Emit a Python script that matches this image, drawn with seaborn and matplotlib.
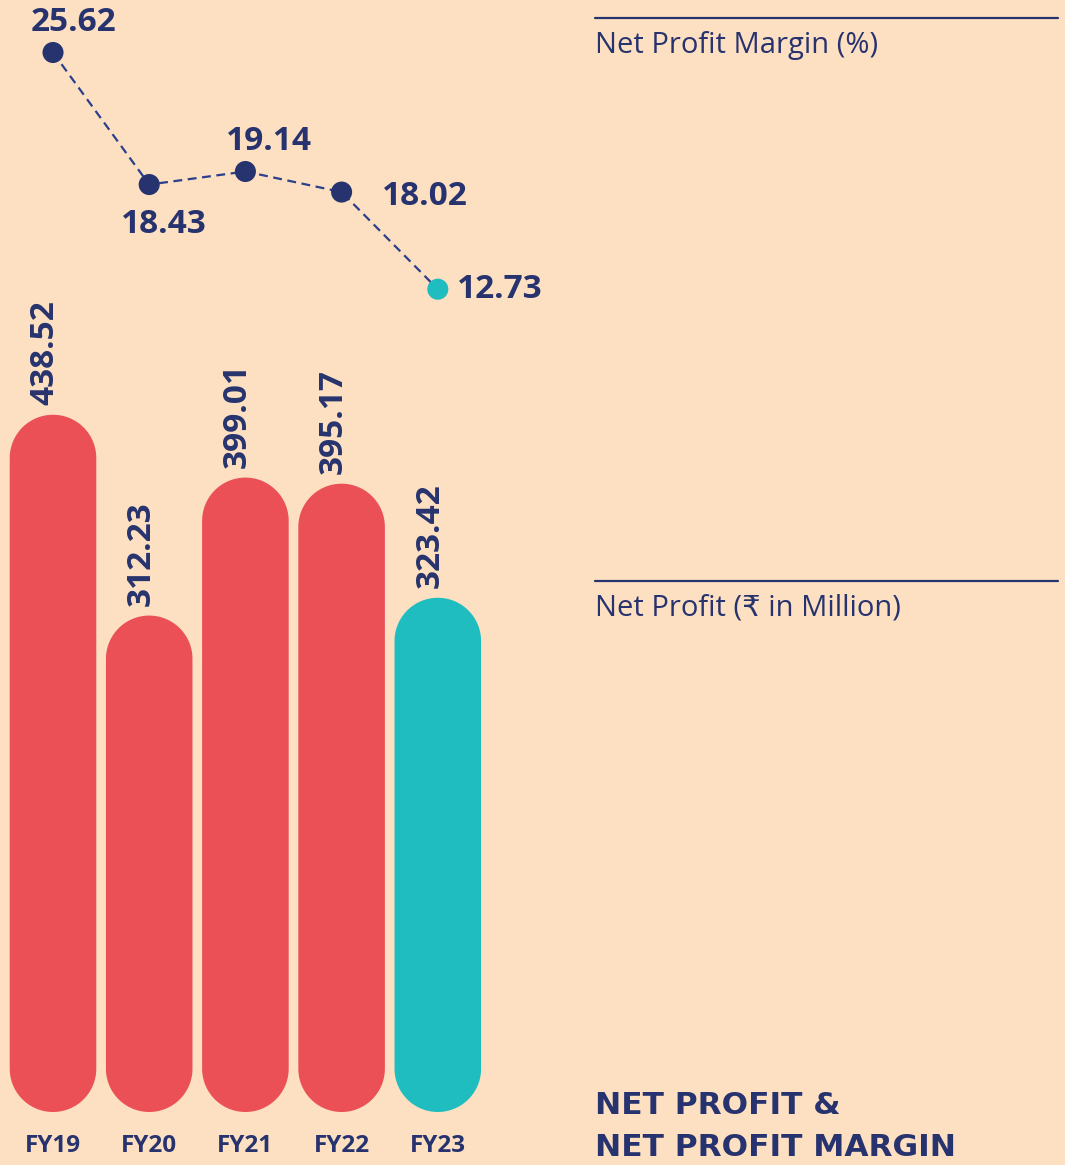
import matplotlib
matplotlib.use("Agg")
import matplotlib.pyplot as plt
from matplotlib.patches import Polygon
from matplotlib.lines import Line2D
import numpy as np
import seaborn as sns

years = ["FY19", "FY20", "FY21", "FY22", "FY23"]
net_profit = [438.52, 312.23, 399.01, 395.17, 323.42]
net_margin = [25.62, 18.43, 19.14, 18.02, 12.73]

BG = "#FDE0C2"
RED = "#EB5057"
TEAL = "#1FBDC0"
NAVY = "#27336E"
bar_colors = [RED, RED, RED, RED, TEAL]

sns.set_theme(style="white")
plt.rcParams["font.family"] = ["Open Sans", "DejaVu Sans"]

fig = plt.figure(figsize=(10.65, 11.65), dpi=100)
fig.patch.set_facecolor(BG)
W, H = 1065, 1165

# bars
ax = fig.add_axes([4.9 / W, 53 / H, 481 / W, 795 / H])
ax.set_facecolor("none")
sns.barplot(x=years, y=net_profit, hue=years, palette=bar_colors,
            legend=False, width=0.9, saturation=1, ax=ax)
ax.set_xlim(-0.5, 4.5)
ax.set_ylim(0, 500)

pos = ax.get_position()
x_per_px = 5.0 / (pos.width * W)
y_per_px = 500.0 / (pos.height * H)
aspect = y_per_px / x_per_px

# replace each bar by a pill of the same size
t = np.linspace(0, np.pi, 60)
for rect in list(ax.patches):
    x0, w, h = rect.get_x(), rect.get_width(), rect.get_height()
    rx = w / 2
    ry = rx * aspect
    cx = x0 + rx
    top = np.column_stack([cx + rx * np.cos(t), h - ry + ry * np.sin(t)])
    bot = np.column_stack([cx - rx * np.cos(t), ry - ry * np.sin(t)])
    pill = Polygon(np.vstack([top, bot]), closed=True,
                   facecolor=rect.get_facecolor(), edgecolor="none")
    rect.remove()
    ax.add_patch(pill)

for i, v in enumerate(net_profit):
    ax.annotate(f"{v:.2f}", (i, v), xytext=(-8, 10), textcoords="offset pixels",
                rotation=90, ha="center", va="bottom", fontsize=24,
                fontweight="bold", color=NAVY)

ax.tick_params(axis="x", length=0, pad=16, labelsize=17.5, labelcolor=NAVY)
for lab in ax.get_xticklabels():
    lab.set_fontweight("bold")
ax.set_yticks([])
ax.set_xlabel("")
ax.set_ylabel("")
sns.despine(ax=ax, left=True, bottom=True)

# margin line
ax2 = fig.add_axes([4.9 / W, (H - 323) / H, 481 / W, 321 / H])
ax2.set_facecolor("none")
sns.lineplot(x=years, y=net_margin, color="#2B3F8C", linewidth=1.6,
             linestyle="--", ax=ax2)
ax2.lines[0].set_dashes((4, 2.5))
sns.scatterplot(x=years, y=net_margin, hue=years, palette=[NAVY] * 4 + [TEAL],
                s=230, edgecolor="none", legend=False, zorder=3, ax=ax2)
ax2.set_xlim(-0.5, 4.5)
ax2.set_ylim(10.89, 28.37)

offsets = [(20, 30), (15, -40), (24, 30), (83, -4), (62, 0)]
for i, (v, off) in enumerate(zip(net_margin, offsets)):
    ax2.annotate(f"{v:.2f}", (i, v), xytext=off, textcoords="offset pixels",
                 ha="center", va="center", fontsize=24, fontweight="bold",
                 color=NAVY)
ax2.axis("off")

# right side labels
for y_line, y_txt, txt in [(18, 46, "Net Profit Margin (%)"),
                           (581, 608, "Net Profit (₹ in Million)")]:
    fig.add_artist(Line2D([595 / W, 1058 / W], [1 - y_line / H, 1 - y_line / H],
                          color=NAVY, linewidth=1.6))
    fig.text(595 / W, 1 - y_txt / H, txt, ha="left", va="center",
             fontsize=21, color=NAVY)

fig.text(595 / W, 1 - 1105 / H, "NET PROFIT &", ha="left", va="center",
         fontsize=22.5, fontweight="bold", color=NAVY, family="DejaVu Sans")
fig.text(595 / W, 1 - 1148 / H, "NET PROFIT MARGIN", ha="left", va="center",
         fontsize=22.5, fontweight="bold", color=NAVY, family="DejaVu Sans")

fig.savefig("out.png", dpi=100, facecolor=BG)
